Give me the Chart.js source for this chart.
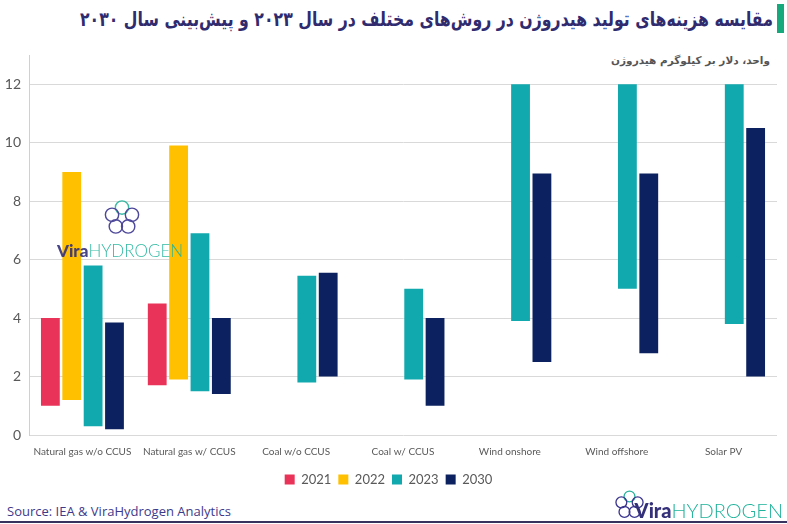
<!DOCTYPE html>
<html lang="fa">
<head>
<meta charset="utf-8">
<script src="https://cdn.jsdelivr.net/npm/chart.js@4.4.1/dist/chart.umd.min.js"></script>
<style>
    body { margin: 0; width: 787px; height: 524px; background: #fff; position: relative; overflow: hidden; }
    #title { position: absolute; right: 14px; top: 7px; direction: rtl; white-space: nowrap;
        font-family: "DejaVu Sans", sans-serif; font-weight: bold; font-size: 20px; color: #2f2b6e;
        transform-origin: right center; }
    #title-bar { position: absolute; left: 777px; top: 4px; width: 7px; height: 29px; background: #16a97b; }
    #unit { position: absolute; right: 17px; top: 54px; direction: rtl; white-space: nowrap;
        font-family: "DejaVu Sans", sans-serif; font-weight: bold; font-size: 10.5px; color: #555; }
    #wrap { position: absolute; left: 0; top: 0; width: 787px; height: 500px; }
    #source { position: absolute; left: 7px; top: 502px; font-family: "Open Sans", sans-serif;
        font-size: 13px; color: #3d3a8c; }
    #bottom-line { position: absolute; left: 0; top: 521px; width: 787px; height: 2px; background: #37335e; }
    .logo { position: absolute; white-space: nowrap; font-family: "Lato", sans-serif; }
    .logo b { color: #34307a; font-weight: 900; }
    .logo span { color: #1fb39b; font-weight: 300; }
    #wm { left: 57px; top: 240px; font-size: 17px; opacity: 0.9; }
    #wm-icon { position: absolute; left: 103px; top: 199px; opacity: 0.9; }
    #logo2 { right: 4px; top: 498px; font-size: 20px; }
    #logo2-icon { position: absolute; left: 614px; top: 489px; }
</style>
</head>
<body>
<div id="title">مقایسه هزینه‌های تولید هیدروژن در روش‌های مختلف در سال ۲۰۲۳ و پیش‌بینی سال ۲۰۳۰</div>
<div id="title-bar"></div>
<div id="unit">واحد، دلار بر کیلوگرم هیدروژن</div>
<div id="wrap"><canvas id="costChart"></canvas></div>

<svg id="wm-icon" width="38" height="38" viewBox="0 0 40 40">
    <g fill="none" stroke="#3b358f" stroke-width="1.5">
        <circle cx="20" cy="9" r="7" stroke="#25b39a"/>
        <circle cx="30.5" cy="16.6" r="7"/>
        <circle cx="26.5" cy="28.9" r="7"/>
        <circle cx="13.5" cy="28.9" r="7"/>
        <circle cx="9.5" cy="16.6" r="7"/>
    </g>
</svg>
<div id="wm" class="logo"><b>Vira</b><span>HYDROGEN</span></div>

<div id="source">Source: IEA &amp; ViraHydrogen Analytics</div>
<svg id="logo2-icon" width="31" height="32" viewBox="0 0 40 40">
    <g fill="none" stroke="#3b358f" stroke-width="1.7">
        <circle cx="20" cy="9" r="7" stroke="#25b39a"/>
        <circle cx="30.5" cy="16.6" r="7"/>
        <circle cx="26.5" cy="28.9" r="7"/>
        <circle cx="13.5" cy="28.9" r="7"/>
        <circle cx="9.5" cy="16.6" r="7"/>
    </g>
</svg>
<div id="logo2" class="logo"><b>Vira</b><span>HYDROGEN</span></div>
<div id="bottom-line"></div>

<script>
/* ---------------------------
    DATA
------------------------------ */
const categories = ["Natural gas w/o CCUS", "Natural gas w/ CCUS", "Coal w/o CCUS", "Coal w/ CCUS",
    "Wind onshore", "Wind offshore", "Solar PV"];

// [low, high] in USD/kg H2
const cost2021 = [[1.0, 4.0], [1.7, 4.5], null, null, null, null, null];
const cost2022 = [[1.2, 9.0], [1.9, 9.9], null, null, null, null, null];
const cost2023 = [[0.3, 5.8], [1.5, 6.9], [1.8, 5.45], [1.9, 5.0], [3.9, 12], [5.0, 12], [3.8, 12]];
const cost2030 = [[0.2, 3.85], [1.4, 4.0], [2.0, 5.55], [1.0, 4.0], [2.5, 8.95], [2.8, 8.95], [2.0, 10.5]];

const yearLabels = ["2021", "2022", "2023", "2030"];
const yearColors = ["#ea3358", "#ffc000", "#12a9ae", "#0c2260"];

const yTicks = [0, 2, 4, 6, 8, 10, 12];

/* ---------------------------
    TITLE WIDTH (fit like the original)
------------------------------ */
const titleEl = document.getElementById("title");
titleEl.style.transform = "scaleX(" + (693 / titleEl.offsetWidth) + ")";

/* ---------------------------
    CHART
------------------------------ */
const series = [cost2021, cost2022, cost2023, cost2030];

new Chart(document.getElementById("costChart"), {
    type: "bar",
    data: {
        labels: categories,
        datasets: series.map((vals, i) => ({
            label: yearLabels[i],
            data: vals,
            backgroundColor: yearColors[i],
            borderWidth: 0,
            categoryPercentage: 0.8,
            barPercentage: 0.88
        }))
    },
    options: {
        responsive: true,
        maintainAspectRatio: false,
        animation: false,
        layout: { padding: { top: 55, right: 10, left: 0, bottom: 4 } },
        plugins: {
            tooltip: { enabled: false },
            legend: {
                position: "bottom",
                labels: {
                    boxWidth: 10,
                    boxHeight: 10,
                    padding: 7,
                    color: "#595959",
                    font: { family: "Lato", size: 13 }
                }
            }
        },
        scales: {
            x: {
                grid: { display: false, drawTicks: false },
                border: { display: false },
                ticks: {
                    color: "#595959",
                    font: { family: "Lato", size: 10 },
                    maxRotation: 0,
                    autoSkip: false,
                    padding: 11
                },
                afterFit: (scale) => { scale.height = 31; }
            },
            y: {
                min: 0,
                max: 13,
                afterBuildTicks: (axis) => {
                    axis.ticks = yTicks.map(v => ({ value: v }));
                },
                grid: { color: "#d9d9d9", drawTicks: false },
                border: { display: true, color: "#d0d0d0" },
                ticks: {
                    color: "#595959",
                    font: { family: "Lato", size: 14 },
                    padding: 8
                },
                afterFit: (scale) => { scale.width = 29; }
            }
        }
    }
});
</script>
</body>
</html>
